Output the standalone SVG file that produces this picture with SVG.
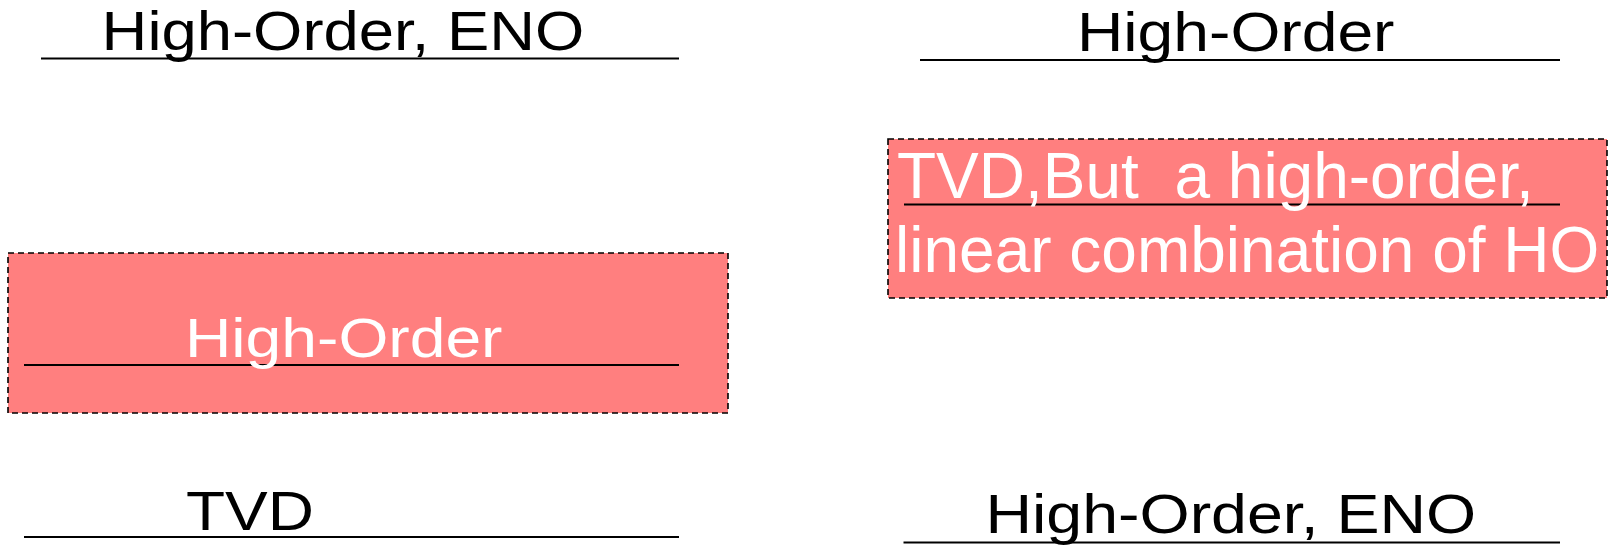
<svg xmlns="http://www.w3.org/2000/svg" width="1608" height="547" viewBox="0 0 1608 547">
<style>
.t{font-family:"Liberation Sans",Arial,sans-serif;font-size:56px;fill:#000}
.tw{fill:#fff}
.big{font-size:64px}
.ul{stroke:#000;stroke-width:2;fill:none}
.box{fill:#ff7f7f;stroke:#000;stroke-width:1.6;stroke-dasharray:6 4}
</style>
<rect width="1608" height="547" fill="#fff"/>
<g id="node-top-left">
<line class="ul" x1="41" y1="58.5" x2="679" y2="58.5"/>
<text class="t" x="101.6" y="50" textLength="482.7" lengthAdjust="spacingAndGlyphs">High-Order, ENO</text>
</g>
<g id="node-top-right">
<line class="ul" x1="920" y1="60" x2="1560" y2="60"/>
<text class="t" x="1077" y="51" textLength="317.5" lengthAdjust="spacingAndGlyphs">High-Order</text>
</g>
<g id="node-mid-left">
<rect class="box" x="8" y="253" width="720" height="160"/>
<line class="ul" x1="24" y1="365" x2="679" y2="365"/>
<text class="t tw" x="185" y="357" textLength="317.5" lengthAdjust="spacingAndGlyphs">High-Order</text>
</g>
<g id="node-mid-right">
<rect class="box" x="888" y="139" width="719" height="159"/>
<line class="ul" x1="904" y1="204.5" x2="1560" y2="204.5"/>
<text class="t tw big" xml:space="preserve" x="897" y="197.5">TVD,But  a high-order,</text>
<text class="t tw big" x="895" y="271.5">linear combination of HO</text>
</g>
<g id="node-bottom-left">
<line class="ul" x1="24" y1="537" x2="679" y2="537"/>
<text class="t" x="186" y="530" textLength="128" lengthAdjust="spacingAndGlyphs">TVD</text>
</g>
<g id="node-bottom-right">
<line class="ul" x1="903.5" y1="542.5" x2="1560" y2="542.5"/>
<text class="t" x="985.5" y="533" textLength="490.7" lengthAdjust="spacingAndGlyphs">High-Order, ENO</text>
</g>
</svg>
